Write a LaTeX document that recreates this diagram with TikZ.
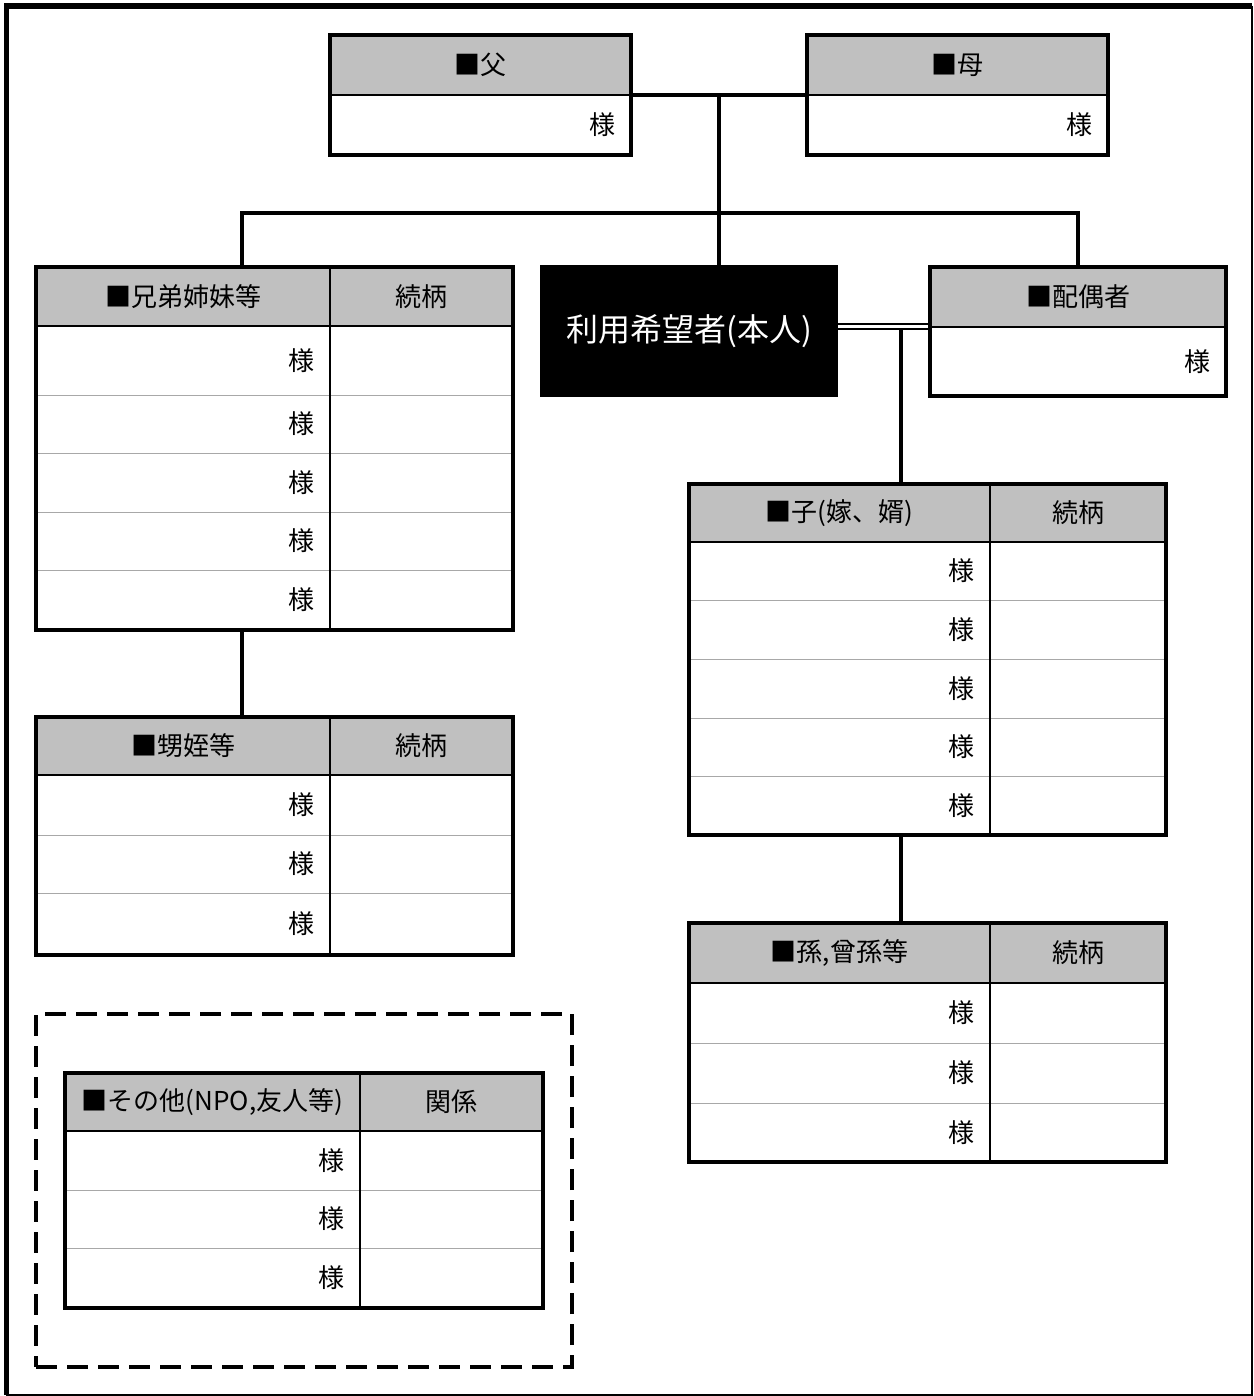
\documentclass[tikz,border=0pt]{standalone}
\usepackage{fontspec}
\newfontfamily\jp{Noto Sans CJK JP}
\usetikzlibrary{fit,calc}
\definecolor{hdrgray}{HTML}{C0C0C0}
\definecolor{rowgray}{HTML}{A8A8A8}
\tikzset{
  hdr/.style={fill=hdrgray},
  rowline/.style={draw=rowgray, line width=0.5pt},
  inner/.style={draw=black, line width=1pt},
  box/.style={draw=black, line width=1.9pt, inner sep=0pt, rectangle},
  conn/.style={draw=black, line width=2pt},
  dbl/.style={draw=black, double=white, double distance=1.3pt, line width=0.9pt},
  txt/.style={font=\jp\fontsize{13pt}{15pt}\selectfont, inner sep=0pt},
  sama/.style={font=\jp\fontsize{13pt}{15pt}\selectfont, inner sep=0pt, anchor=east},
  dashbox/.style={draw=black, line width=2pt, dash pattern=on 10.5pt off 5pt, inner sep=0pt, rectangle},
}
% name, x1, y1, x2, y2, xsplit, rows (top/bottom list), title, col2
\newcommand\famtab[9]{%
  \def\hb{#7}%
  \foreach \a/\b [count=\k] in {#7}{\ifnum\k=1 \xdef\hbot{\a}\fi}%
  \fill[hdr] (#2,#3) rectangle (#4,\hbot);
  \foreach \a/\b [count=\k] in {#7}{%
    \draw[rowline] (#2,\a) -- (#4,\a);
    \node[sama] (#1-s\k) at ({#6-15},{(\a+\b)/2}) {様};
  }
  \draw[inner] (#2,\hbot) -- (#4,\hbot);
  \draw[inner] (#6,#3) -- (#6,#5);
  \node[txt] (#1-t) at ({(#2+#6)/2},{(#3+\hbot)/2}) {#8};
  \node[txt] (#1-c) at ({(#6+#4)/2},{(#3+\hbot)/2}) {#9};
  \node[box, fit={(#2,#3) (#4,#5)}] (#1) {};
}
% name, x1, y1, x2, y2, title
\newcommand\perbox[6]{%
  \fill[hdr] (#2,#3) rectangle (#4,{#3+60});
  \draw[inner] (#2,{#3+60}) -- (#4,{#3+60});
  \node[txt] (#1-t) at ({(#2+#4)/2},{#3+30}) {#6};
  \node[sama] (#1-s) at ({#4-15},{(#3+60+#5)/2}) {様};
  \node[box, fit={(#2,#3) (#4,#5)}] (#1) {};
}
\begin{document}
\begin{tikzpicture}[x=0.5pt, y=-0.5pt]
\useasboundingbox (0,0) rectangle (1253,1396);
% outer frame
\draw[line width=0.8pt] (1252,6) -- (1252,1395) -- (6,1395);
\draw[line width=2.6pt] (6.5,1395) -- (6.5,6) -- (1252,6);

\perbox{fa}{330}{35}{631}{155}{■父}
\perbox{mo}{807}{35}{1108}{155}{■母}
\perbox{hai}{930}{267}{1226}{396}{■配偶者}

\node[fill=black, inner sep=0pt, minimum width=149pt, minimum height=66pt,
      text=white, font=\jp\fontsize{16pt}{18pt}\selectfont] (me) at (689,331) {利用希望者(本人)};

\famtab{kyo}{36}{267}{513}{630}{330}{326/395,395/453,453/512,512/570,570/630}{■兄弟姉妹等}{続柄}
\famtab{oi}{36}{717}{513}{955}{330}{775/835,835/893,893/955}{■甥姪等}{続柄}
\famtab{ko}{689}{484}{1166}{835}{990}{542/600,600/659,659/718,718/776,776/835}{■子(嫁、婿)}{続柄}
\famtab{mago}{689}{923}{1166}{1162}{990}{983/1043,1043/1103,1103/1162}{■孫,曾孫等}{続柄}
\famtab{oth}{65}{1073}{543}{1308}{360}{1131/1190,1190/1248,1248/1308}{■その他(NPO,友人等)}{関係}

\node[dashbox, fit={(36,1014) (572,1367)}] (other) {};

% connectors
\coordinate (pm) at ($(fa.east)!0.5!(mo.west)$);
\coordinate (barL) at (242,213);
\coordinate (barR) at (1078,213);
\coordinate (cx) at (901,326.5);
\draw[conn] (fa.east) -- (mo.west);
\draw[conn] (pm) -- (pm |- me.north);
\draw[conn] (barL |- kyo.north) -- (barL) -- (barR) -- (barR |- hai.north);
\draw[dbl] (me.east |- cx) -- (cx -| hai.west);
\draw[conn] ([yshift=-1.5pt]cx) -- (cx |- ko.north);
\draw[conn] (ko.south -| cx) -- (cx |- mago.north);
\draw[conn] (kyo.south -| barL) -- (barL |- oi.north);
\end{tikzpicture}
\end{document}
